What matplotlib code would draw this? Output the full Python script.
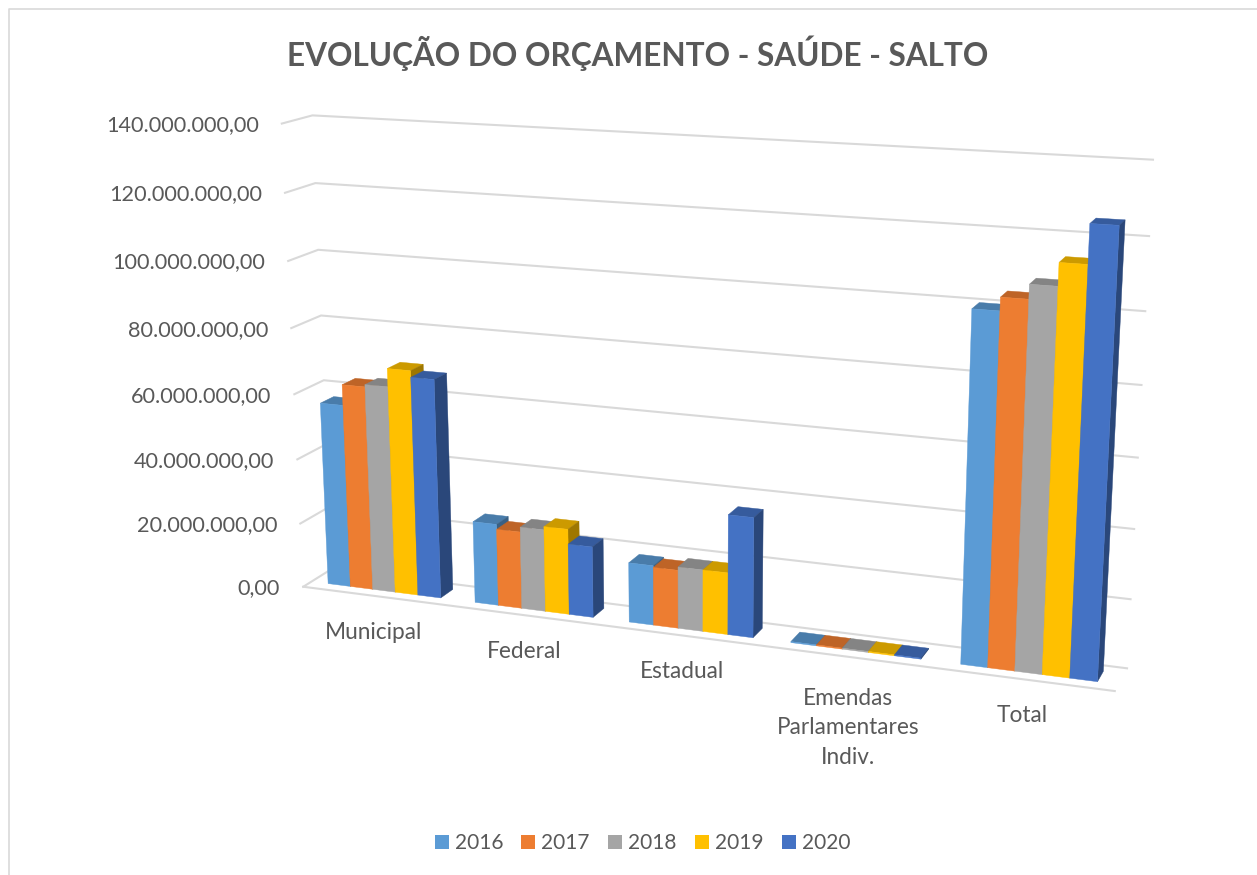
import numpy as np
import matplotlib
matplotlib.use("Agg")
import matplotlib.pyplot as plt
from matplotlib.patches import Patch

categories = ["Municipal", "Federal", "Estadual", "Emendas\nParlamentares\nIndiv.", "Total"]
years = ["2016", "2017", "2018", "2019", "2020"]

# values in millions of reais
v2016 = [56.5, 25.0, 18.0, 0.3, 100.0]
v2017 = [62.8, 23.5, 17.5, 0.3, 103.7]
v2018 = [63.5, 25.0, 18.5, 0.3, 107.7]
v2019 = [69.0, 26.0, 18.5, 0.3, 114.0]
v2020 = [67.0, 21.5, 35.7, 0.3, 124.7]
series = [v2016, v2017, v2018, v2019, v2020]

ticks = [0, 20, 40, 60, 80, 100, 120, 140]
tick_labels = ["0,00", "20.000.000,00", "40.000.000,00", "60.000.000,00",
               "80.000.000,00", "100.000.000,00", "120.000.000,00", "140.000.000,00"]

colors = ["#5B9BD5", "#ED7D31", "#A5A5A5", "#FFC000", "#4472C4"]
text_color = "#595959"
grid_color = "#D9D9D9"

# camera calibration: (category pos, depth, value) -> screen pixel of the 3d box
left_back = [(330, 568), (327, 505), (326, 447), (325, 381), (322, 316), (318, 250), (317, 182), (313, 115)]
right_back = [(1127, 667), (1130, 600), (1135, 530), (1139, 458), (1142, 385), (1144, 312), (1148, 236), (1153, 158)]
calib = [(0, 0, 0, 303, 587), (5, 0, 0, 1115, 691), (0, 0, 140, 280, 124)]
for t, p, q in zip(ticks, left_back, right_back):
    calib.append((0, 1, t, p[0], p[1]))
    calib.append((5, 1, t, q[0], q[1]))

gap = 0.115
d0 = 0.29
d1 = 0.75
foot = [(329, 583), (442, 598), (476, 602), (593, 617), (629, 622), (753, 638), (961, 664), (1097, 682)]
for i, k in enumerate([0, 0, 1, 1, 2, 2, 4, 4]):
    xw = k + gap if i % 2 == 0 else k + 1 - gap
    calib.append((xw, d0, 0, foot[i][0], foot[i][1]))

A = []
b = []
for x, d, z, u, v in calib:
    A.append([x, d, z, 1, 0, 0, 0, 0, -u * x, -u * d, -u * z])
    b.append(u)
    A.append([0, 0, 0, 0, x, d, z, 1, -v * x, -v * d, -v * z])
    b.append(v)
sol = np.linalg.lstsq(np.array(A, float), np.array(b, float), rcond=None)[0]
P = np.append(sol, 1.0).reshape(3, 4)


def proj(x, d, z):
    r = P @ np.array([x, d, z, 1.0])
    return r[0] / r[2], r[1] / r[2]


def face(pts, color):
    xy = [proj(*p) for p in pts]
    ax.fill([q[0] for q in xy], [q[1] for q in xy], color=color, lw=0.3, zorder=3)


def shade(c, f):
    rgb = matplotlib.colors.to_rgb(c)
    return tuple(f * a for a in rgb)


plt.rcParams["font.family"] = ["Lato", "DejaVu Sans"]
fig = plt.figure(figsize=(12.57, 8.75), dpi=100)
ax = fig.add_axes([0, 0, 1, 1])
ax.set_xlim(0, 1257)
ax.set_ylim(875, 0)
ax.axis("off")

# chart border
ax.plot([9, 9, 1257], [875, 9, 9], color=grid_color, lw=1.2, zorder=1)

ax.text(638, 53.5, "EVOLUÇÃO DO ORÇAMENTO - SAÚDE - SALTO", ha="center", va="center",
        fontsize=22.7, fontweight="bold", color=text_color)

# gridlines and value labels
for t, lab in zip(ticks, tick_labels):
    a = proj(0, 0, t)
    c = proj(0, 1, t)
    e = proj(5, 1, t)
    ax.plot([a[0], c[0], e[0]], [a[1], c[1], e[1]], color=grid_color, lw=1.5, zorder=2)
    ax.text(a[0] - 23, a[1] + 1.5, lab, ha="right", va="center", fontsize=15.6, color=text_color)

fl = proj(0, 0, 0)
fr = proj(5, 0, 0)
ax.plot([fl[0], fr[0]], [fl[1], fr[1]], color=grid_color, lw=1.5, zorder=2)

# bars, left to right so the nearer ones cover the others
bar_w = (1 - 2 * gap) / len(series)
for i in range(len(categories)):
    for s in range(len(series)):
        h = series[s][i]
        x0 = i + gap + s * bar_w
        x1 = x0 + bar_w
        c = colors[s]
        face([(x0, d0, h), (x1, d0, h), (x1, d1, h), (x0, d1, h)], shade(c, 0.8))
        face([(x1, d0, 0), (x1, d1, 0), (x1, d1, h), (x1, d0, h)], shade(c, 0.62))
        face([(x0, d0, 0), (x1, d0, 0), (x1, d0, h), (x0, d0, h)], c)

# category labels
label_dy = [0, 0, 0, 5, 0]
for i, lab in enumerate(categories):
    p = proj(i + 0.5, 0, 0)
    ax.text(p[0] - 2, p[1] + 25.5 + label_dy[i], lab, ha="center", va="top", fontsize=16.3,
            color=text_color, linespacing=1.5)

handles = [Patch(facecolor=c, label=y) for c, y in zip(colors, years)]
ax.legend(handles=handles, loc="center", bbox_to_anchor=(642.5, 843), bbox_transform=ax.transData,
          ncol=5, frameon=False, fontsize=15, labelcolor=text_color, handlelength=0.67,
          handleheight=0.67, handletextpad=0.29, columnspacing=0.88)

fig.savefig("out.png", dpi=100)
